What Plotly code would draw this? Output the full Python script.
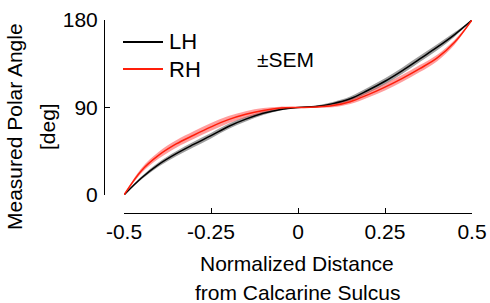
import plotly.graph_objects as go

# ---- data ----
dist = [-0.5, -0.45, -0.4, -0.35, -0.3, -0.25, -0.2, -0.15, -0.1, -0.05, 0.0,
        0.05, 0.1, 0.15, 0.2, 0.25, 0.3, 0.35, 0.4, 0.45, 0.5]
lh_mean = [0, 17.5, 31.5, 42.5, 52, 61, 70.5, 78, 84, 88, 90,
           91, 94, 99, 107.5, 117, 128, 140, 152, 165, 180]
lh_sem = [0, 1.5, 2.2, 2.6, 2.8, 2.8, 2.7, 2.4, 1.8, 1.0, 0.3,
          0.8, 1.6, 2.3, 2.8, 3.0, 3.2, 3.2, 3.0, 2.3, 0]
rh_mean = [0, 25, 41, 52.5, 61.5, 70, 77.5, 83, 87, 89.5, 90,
           90.5, 92, 96, 103, 111, 120, 130, 141, 157, 180]
rh_sem = [0, 2.5, 3.5, 3.8, 4.0, 4.0, 3.7, 3.2, 2.4, 1.4, 0.4,
          1.0, 1.8, 2.5, 3.0, 3.4, 3.6, 3.6, 3.3, 2.5, 0]
x_ticks = [-0.5, -0.25, 0, 0.25, 0.5]
x_ticktext = ["-0.5", "-0.25", "0", "0.25", "0.5"]
y_ticks = [0, 90, 180]
series_names = ["LH", "RH"]

BLACK = "black"
RED = "rgb(255,30,10)"
FONT = "Liberation Sans, Arial, Helvetica, sans-serif"

fig = go.Figure()

def band(xv, m, s, fill):
    upper = [a + b for a, b in zip(m, s)]
    lower = [a - b for a, b in zip(m, s)]
    fig.add_trace(go.Scatter(x=xv + xv[::-1], y=upper + lower[::-1], fill="toself",
                             fillcolor=fill, line=dict(width=0), mode="lines",
                             line_shape="spline", hoverinfo="skip", showlegend=False))

band(dist, lh_mean, lh_sem, "rgba(0,0,0,0.38)")
band(dist, rh_mean, rh_sem, "rgba(255,40,40,0.45)")
fig.add_trace(go.Scatter(x=dist, y=lh_mean, mode="lines", name=series_names[0],
                         line=dict(color=BLACK, width=1.5, shape="spline"), showlegend=False))
fig.add_trace(go.Scatter(x=dist, y=rh_mean, mode="lines", name=series_names[1],
                         line=dict(color=RED, width=1.5, shape="spline"), showlegend=False))

# pixel helpers for layout placement (plot area: x 104..472, y 20..213)
L, R, T, B = 104, 472, 20, 213
def px(xp): return (xp - L) / (R - L)
def py(yp): return (B - yp) / (B - T)

fig.update_layout(
    width=490, height=303, autosize=False,
    margin=dict(l=L, r=490 - R, t=T, b=303 - B, pad=0, autoexpand=False),
    paper_bgcolor="white", plot_bgcolor="white",
    font=dict(family=FONT, size=21, color="black"),
    xaxis=dict(domain=[px(124), 1], range=[-0.5, 0.5], anchor="free", position=0,
               showline=True, linecolor="black", linewidth=1, automargin=False,
               ticks="inside", ticklen=5, tickcolor="black",
               tickvals=x_ticks, ticktext=x_ticktext, showgrid=False, zeroline=False,
               tickfont=dict(size=21)),
    yaxis=dict(domain=[py(195), 1], range=[0, 180], anchor="free", position=0,
               showline=True, linecolor="black", linewidth=1, automargin=False,
               ticks="inside", ticklen=5, tickcolor="black",
               tickvals=y_ticks, showgrid=False, zeroline=False,
               tickfont=dict(size=21), ticklabelstandoff=2),
    showlegend=False,
)

ann = []
# y-axis title (two lines)
ann.append(dict(text="Measured Polar Angle", x=px(14), y=py(127), xref="paper", yref="paper",
                textangle=-90, showarrow=False, xanchor="center", yanchor="middle",
                font=dict(size=21)))
ann.append(dict(text="[deg]", x=px(47), y=py(127), xref="paper", yref="paper",
                textangle=-90, showarrow=False, xanchor="center", yanchor="middle",
                font=dict(size=21)))
# x-axis title (two lines)
ann.append(dict(text="Normalized Distance", x=px(297), y=py(263), xref="paper", yref="paper",
                showarrow=False, xanchor="center", yanchor="middle", font=dict(size=21)))
ann.append(dict(text="from Calcarine Sulcus", x=px(297), y=py(292), xref="paper", yref="paper",
                showarrow=False, xanchor="center", yanchor="middle", font=dict(size=21)))
# legend texts
ann.append(dict(text=series_names[0], x=px(167), y=py(41), xref="paper", yref="paper",
                showarrow=False, xanchor="left", yanchor="middle", font=dict(size=22)))
ann.append(dict(text=series_names[1], x=px(167), y=py(69), xref="paper", yref="paper",
                showarrow=False, xanchor="left", yanchor="middle", font=dict(size=22)))
# ±SEM
ann.append(dict(text="±SEM", x=px(285), y=py(60), xref="paper", yref="paper",
                showarrow=False, xanchor="center", yanchor="middle", font=dict(size=21)))
fig.update_layout(annotations=ann)

fig.add_shape(type="line", xref="paper", yref="paper", x0=px(123), x1=px(163),
              y0=py(42), y1=py(42), line=dict(color=BLACK, width=2))
fig.add_shape(type="line", xref="paper", yref="paper", x0=px(123), x1=px(163),
              y0=py(69), y1=py(69), line=dict(color=RED, width=2))

fig.write_html("out.html", config={"displayModeBar": False},
               post_script="document.body.style.margin='0';document.body.style.overflow='hidden';")
